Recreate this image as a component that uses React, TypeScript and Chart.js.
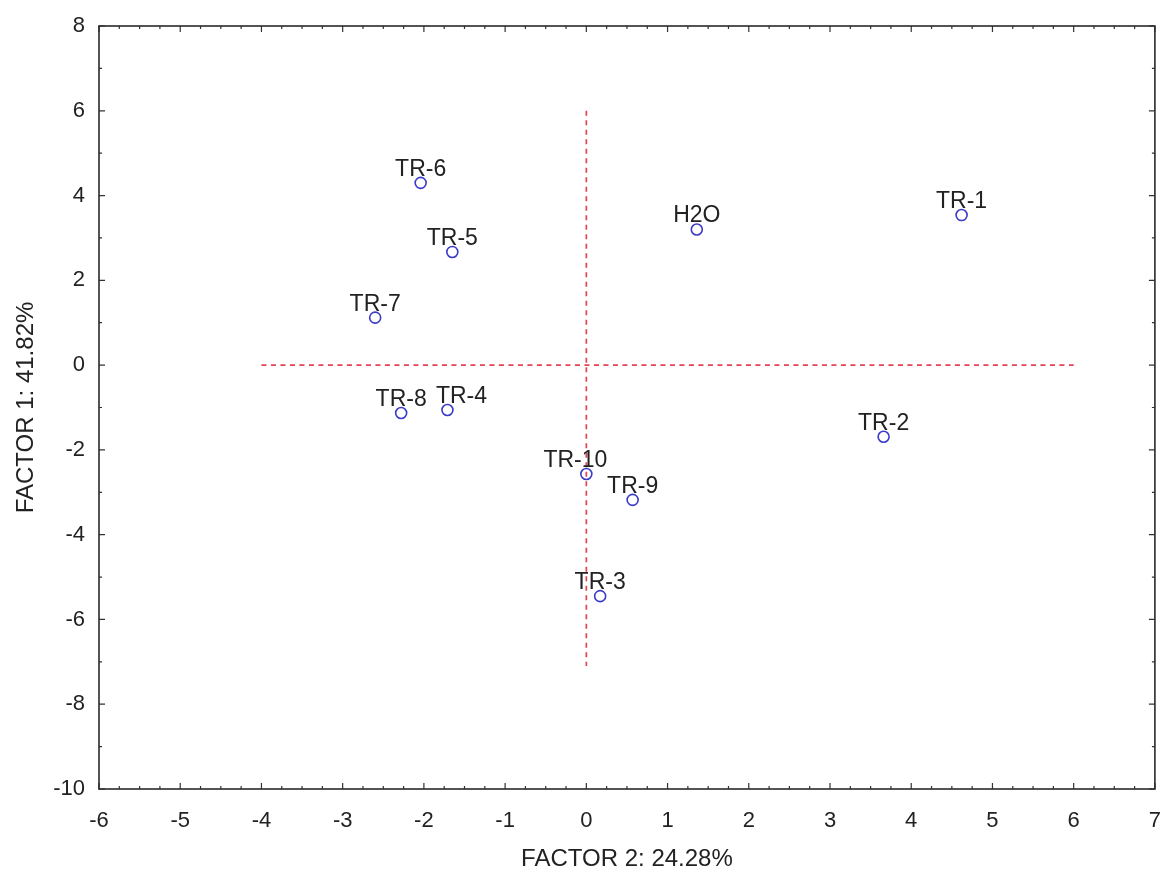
import React, { useEffect, useRef } from 'react';
import { Chart, registerables } from 'chart.js';

Chart.register(...registerables);

const samples = ['TR-1', 'TR-2', 'TR-3', 'TR-4', 'TR-5', 'TR-6', 'TR-7', 'TR-8', 'TR-9', 'TR-10', 'H2O'];
const factor2 = [4.62, 3.66, 0.17, -1.71, -1.65, -2.04, -2.6, -2.28, 0.57, 0.0, 1.36];
const factor1 = [3.54, -1.69, -5.45, -1.06, 2.67, 4.3, 1.12, -1.13, -3.18, -2.57, 3.2];

// dashed reference lines through the origin
const hRefX = [-4, 6];
const hRefY = [0, 0];
const vRefX = [0, 0];
const vRefY = [6, -7.1];

const xTitle = 'FACTOR 2: 24.28%';
const yTitle = 'FACTOR 1: 41.82%';

// a couple of labels are nudged sideways in the original
const labelShift: Record<string, number> = { 'TR-4': 14, 'TR-10': -11 };

const FONT = '"Liberation Sans", Arial, sans-serif';
const INK = '#222';

const frameTicks = {
  id: 'frameTicks',
  afterDraw(chart: any) {
    const { ctx, chartArea, scales } = chart;
    const { left, right, top, bottom } = chartArea;
    const x = scales.x;
    const y = scales.y;
    ctx.save();
    ctx.strokeStyle = '#333';
    ctx.lineWidth = 1.2;
    ctx.beginPath();
    for (let v = x.min; v <= x.max + 1e-9; v += 0.25) {
      const px = x.getPixelForValue(v);
      const len = Math.abs(v - Math.round(v)) < 1e-6 ? 6 : 3;
      ctx.moveTo(px, bottom);
      ctx.lineTo(px, bottom - len);
      ctx.moveTo(px, top);
      ctx.lineTo(px, top + len);
    }
    for (let v = y.min; v <= y.max + 1e-9; v += 1) {
      const py = y.getPixelForValue(v);
      const len = Math.abs(v % 2) < 1e-6 ? 6 : 3;
      ctx.moveTo(left, py);
      ctx.lineTo(left + len, py);
      ctx.moveTo(right, py);
      ctx.lineTo(right - len, py);
    }
    ctx.stroke();
    ctx.lineWidth = 1.6;
    ctx.strokeStyle = '#2a2a2a';
    ctx.strokeRect(left, top, right - left, bottom - top);
    ctx.restore();
  },
};

const pointLabels = {
  id: 'pointLabels',
  afterDatasetsDraw(chart: any) {
    const { ctx } = chart;
    const meta = chart.getDatasetMeta(0);
    ctx.save();
    ctx.font = `23px ${FONT}`;
    ctx.fillStyle = INK;
    ctx.textAlign = 'center';
    ctx.textBaseline = 'alphabetic';
    meta.data.forEach((el: any, i: number) => {
      const dx = labelShift[samples[i]] ?? 0;
      ctx.fillText(samples[i], el.x + dx, el.y - 7);
    });
    ctx.restore();
  },
};

function ScatterChart() {
  const chartRef = useRef<HTMLCanvasElement>(null);
  const chartInstance = useRef<Chart | null>(null);

  useEffect(() => {
    if (!chartRef.current) return;
    if (chartInstance.current) chartInstance.current.destroy();
    const ctx = chartRef.current.getContext('2d');
    if (!ctx) return;

    const dashed = {
      showLine: true,
      borderColor: 'rgba(226, 45, 65, 0.9)',
      borderWidth: 1.7,
      borderDash: [5, 4.5],
      pointRadius: 0,
      fill: false,
    };

    chartInstance.current = new Chart(ctx, {
      type: 'scatter',
      data: {
        datasets: [
          {
            label: 'Samples',
            data: samples.map((_, i) => ({ x: factor2[i], y: factor1[i] })),
            pointRadius: 5.5,
            pointHoverRadius: 5.5,
            pointBorderWidth: 1.6,
            borderColor: '#3b3bc9',
            backgroundColor: 'rgba(0,0,0,0)',
          },
          {
            label: 'h',
            data: hRefX.map((v, i) => ({ x: v, y: hRefY[i] })),
            ...dashed,
          },
          {
            label: 'v',
            data: vRefX.map((v, i) => ({ x: v, y: vRefY[i] })),
            ...dashed,
          },
        ],
      },
      options: {
        responsive: true,
        maintainAspectRatio: false,
        animation: false,
        layout: { padding: { top: 26, right: 7, left: 0, bottom: 0 } },
        plugins: {
          legend: { display: false },
          tooltip: { enabled: false },
        },
        scales: {
          x: {
            type: 'linear',
            min: -6,
            max: 7,
            grid: { display: false, drawTicks: false },
            border: { display: false },
            ticks: {
              stepSize: 1,
              autoSkip: false,
              maxRotation: 0,
              padding: 19,
              color: INK,
              font: { family: FONT, size: 22 },
            },
            title: {
              display: true,
              text: xTitle,
              color: INK,
              font: { family: FONT, size: 24, lineHeight: 1 },
              padding: 0,
            },
            afterFit: (scale: any) => {
              scale.height = 82;
              scale.paddingLeft = 0;
              scale.paddingRight = 0;
            },
          },
          y: {
            type: 'linear',
            min: -10,
            max: 8,
            grid: { display: false, drawTicks: false },
            border: { display: false },
            ticks: {
              stepSize: 2,
              autoSkip: false,
              padding: 14,
              color: INK,
              font: { family: FONT, size: 22 },
            },
            title: {
              display: true,
              text: yTitle,
              color: INK,
              font: { family: FONT, size: 24, lineHeight: 1 },
              padding: { top: 14, bottom: 0 },
            },
            afterFit: (scale: any) => {
              scale.width = 99;
              scale.paddingTop = 0;
              scale.paddingBottom = 0;
            },
          },
        },
      },
      plugins: [frameTicks, pointLabels],
    });

    return () => {
      if (chartInstance.current) {
        chartInstance.current.destroy();
        chartInstance.current = null;
      }
    };
  }, []);

  return (
    <div style={{ position: 'absolute', left: 0, top: 0, width: 1162, height: 871, background: '#fff' }}>
      <canvas ref={chartRef} />
    </div>
  );
}

export default function App() {
  return <ScatterChart />;
}
